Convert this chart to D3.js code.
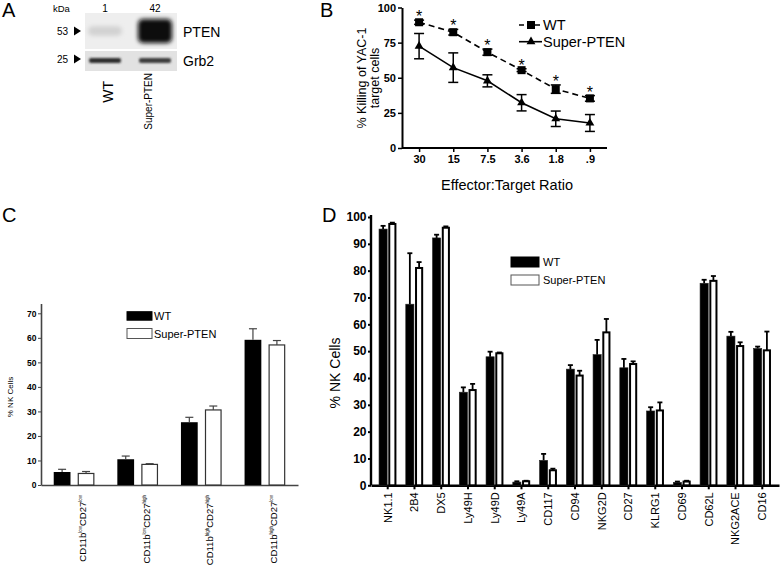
<!DOCTYPE html>
<html><head><meta charset="utf-8">
<script src="https://cdn.jsdelivr.net/npm/d3@7"></script>
<style>
body{margin:0;background:#fff}
svg text{font-family:"Liberation Sans",Arial,Helvetica,sans-serif;fill:#000}
</style>
</head><body>
<svg id="c" width="780" height="576"></svg>
<script>
// ---------- DATA ----------
// Panel A (western blot)
const blotLanes = ["WT", "Super-PTEN"];
const ptenFold = [1, 42];
const grb2Level = [1, 0.92];
const kdaLabels = ["53", "25"];
const blotProteins = ["PTEN", "Grb2"];

// Panel B (killing)
const ratios = ["30", "15", "7.5", "3.6", "1.8", ".9"];
const killWT = [89.5, 82.4, 68.2, 55.4, 41.9, 35.3];
const killWTErr = [1.5, 2.0, 2.2, 1.0, 3.0, 2.0];
const killSP = [72.5, 57.2, 47.8, 32.2, 20.8, 17.8];
const killSPErr = [9.0, 10.5, 4.3, 5.8, 5.5, 6.0];
const killTicks = [0, 25, 50, 75, 100];

// Panel C (subsets)
const subsetCD11b = ["low", "low", "high", "high"];
const subsetCD27 = ["low", "high", "high", "low"];
const subsetWT = [5.3, 10.5, 25.6, 59.2];
const subsetWTErr = [1.1, 1.3, 2.0, 4.5];
const subsetSP = [4.7, 8.4, 30.6, 57.1];
const subsetSPErr = [0.8, 0.3, 1.6, 1.8];
const subsetTicks = [0, 10, 20, 30, 40, 50, 60, 70];

// Panel D (receptors)
const receptors = ["NK1.1","2B4","DX5","Ly49H","Ly49D","Ly49A","CD117","CD94","NKG2D","CD27","KLRG1","CD69","CD62L","NKG2ACE","CD16"];
const receptorWT = [95.5, 67.5, 92.2, 34.7, 47.9, 1.2, 9.3, 43.3, 48.7, 43.8, 27.7, 1.1, 75.3, 55.6, 51.0];
const receptorWTErr = [1.2, 19.0, 1.2, 1.8, 1.9, 0.3, 2.4, 1.5, 5.5, 3.3, 1.4, 0.3, 1.3, 1.6, 0.7];
const receptorSP = [97.4, 81.0, 96.0, 35.5, 49.2, 1.5, 5.6, 40.9, 57.0, 45.2, 27.9, 1.4, 76.2, 51.9, 50.3];
const receptorSPErr = [0.5, 2.2, 0.5, 2.3, 0.3, 0.2, 0.6, 1.8, 5.0, 1.0, 3.0, 0.3, 1.8, 1.4, 7.0];
const receptorTicks = [0,10,20,30,40,50,60,70,80,90,100];

const groups = ["WT", "Super-PTEN"];

// ---------- DRAW ----------
const svg = d3.select("#c");
const defs = svg.append("defs");
defs.append("filter").attr("id","blurBig").attr("x","-30%").attr("y","-60%").attr("width","160%").attr("height","220%")
  .append("feGaussianBlur").attr("stdDeviation", 2.2);
defs.append("filter").attr("id","blurSmall").attr("x","-30%").attr("y","-100%").attr("width","160%").attr("height","300%")
  .append("feGaussianBlur").attr("stdDeviation", 1.1);

// panel letters
[["A",2,17],["B",320,17],["C",2,222],["D",322,222]].forEach(([t,x,y]) =>
  svg.append("text").attr("x",x).attr("y",y).attr("font-size",20).text(t));

// ===== Panel A =====
const gA = svg.append("g");
const laneX = d3.scalePoint().domain(blotLanes).range([105, 155]);
gA.append("rect").attr("x",85).attr("y",13).attr("width",92).attr("height",36).attr("fill","#eeeeee");
gA.append("rect").attr("x",85).attr("y",51).attr("width",92).attr("height",20).attr("fill","#e2e2e2");
const shade = d3.scaleLog().domain([1, 42]).range([0.1, 1]);
const shadeCol = d3.interpolateRgb("#e8e8e8", "#0c0c0c");
gA.selectAll(".pten").data(blotLanes).join("rect")
  .attr("x", d => laneX(d) - 17).attr("width", 34)
  .attr("y", (d,i) => 31 - (8 + 16*shade(ptenFold[i]))/2)
  .attr("height", (d,i) => 8 + 16*shade(ptenFold[i]))
  .attr("rx", 5)
  .attr("fill", (d,i) => shadeCol(shade(ptenFold[i])))
  .attr("filter","url(#blurBig)");
gA.selectAll(".grb").data(blotLanes).join("rect")
  .attr("x", d => laneX(d) - 16).attr("width", 32)
  .attr("y", 58).attr("height", 5).attr("rx", 2)
  .attr("fill", (d,i) => shadeCol(0.85*grb2Level[i]))
  .attr("filter","url(#blurSmall)");
gA.append("text").attr("x",53).attr("y",12).attr("font-size",9.5).text("kDa");
gA.selectAll(".fold").data(ptenFold).join("text")
  .attr("x",(d,i)=>laneX(blotLanes[i])).attr("y",12).attr("text-anchor","middle").attr("font-size",10).text(d=>d);
gA.selectAll(".kda").data(kdaLabels).join("text")
  .attr("x",68).attr("y",(d,i)=>[31,59][i]+3.5).attr("text-anchor","end").attr("font-size",10).text(d=>d);
gA.selectAll(".tri").data(kdaLabels).join("path")
  .attr("d",(d,i)=>{const y=[31,59][i];return `M74,${y-4.5}L81,${y}L74,${y+4.5}Z`;}).attr("fill","#000");
gA.selectAll(".prot").data(blotProteins).join("text")
  .attr("x",183).attr("y",(d,i)=>[31.5,61][i]+5).attr("font-size",14).text(d=>d);
gA.selectAll(".lane").data(blotLanes).join("text")
  .attr("transform",(d,i)=>`translate(${laneX(d)+[8,-3][i]},${[81,73][i]}) rotate(-90)`)
  .attr("text-anchor","end").attr("font-size",(d,i)=>[14,10][i]).text(d=>d);

// ===== Panel B =====
const gB = svg.append("g");
const xB = d3.scalePoint().domain(ratios).range([402, 607]).padding(0.5);
const yB = d3.scaleLinear().domain([0, 100]).range([148, 7.5]);
const axB = gB.append("g").attr("transform","translate(402,0)")
  .call(d3.axisLeft(yB).tickValues(killTicks).tickSize(4).tickSizeOuter(0).tickPadding(2));
const axBx = gB.append("g").attr("transform","translate(0,148)")
  .call(d3.axisBottom(xB).tickSize(4).tickSizeOuter(0).tickPadding(3));
[axB, axBx].forEach(a => {
  a.select(".domain").attr("stroke","#000").attr("stroke-width",2);
  a.selectAll(".tick line").attr("stroke","#000").attr("stroke-width",1.5);
  a.selectAll("text").attr("font-size",11).attr("font-weight","bold").attr("fill","#000").attr("font-family",null);
});
axBx.select(".domain").attr("d","M402,0H607");
const lineB = d3.line().x((d,i)=>xB(ratios[i])).y(d=>yB(d));
gB.append("path").datum(killWT).attr("d",lineB).attr("fill","none").attr("stroke","#000").attr("stroke-width",1.6).attr("stroke-dasharray","6,4");
gB.append("path").datum(killSP).attr("d",lineB).attr("fill","none").attr("stroke","#000").attr("stroke-width",1.6);
function errB(vals, errs){
  const g = gB.append("g").attr("stroke","#000").attr("stroke-width",1.5);
  vals.forEach((v,i)=>{
    const x = xB(ratios[i]);
    g.append("line").attr("x1",x).attr("x2",x).attr("y1",yB(v-errs[i])).attr("y2",yB(v+errs[i]));
    [v-errs[i], v+errs[i]].forEach(e=>g.append("line").attr("x1",x-5).attr("x2",x+5).attr("y1",yB(e)).attr("y2",yB(e)));
  });
}
errB(killWT, killWTErr); errB(killSP, killSPErr);
gB.selectAll(".sq").data(killWT).join("rect")
  .attr("x",(d,i)=>xB(ratios[i])-4).attr("y",d=>yB(d)-4).attr("width",8).attr("height",8).attr("fill","#000");
const tri = d3.symbol().type(d3.symbolTriangle).size(34);
gB.selectAll(".tr").data(killSP).join("path")
  .attr("transform",(d,i)=>`translate(${xB(ratios[i])},${yB(d)})`).attr("d",tri).attr("fill","#000");
gB.selectAll(".star").data(killWT).join("text")
  .attr("x",(d,i)=>xB(ratios[i])).attr("y",(d,i)=>yB(d+killWTErr[i])-7+9)
  .attr("text-anchor","middle").attr("font-size",16).text("*");
gB.append("text").attr("x",507).attr("y",190).attr("text-anchor","middle").attr("font-size",14.5).text("Effector:Target Ratio");
const yl = gB.append("text").attr("transform","translate(366,78) rotate(-90)").attr("text-anchor","middle").attr("font-size",12.5);
yl.append("tspan").attr("x",0).attr("dy",0).text("% Killing of YAC-1");
yl.append("tspan").attr("x",0).attr("dy",13).text("target cells");
// legend B
const legB = gB.append("g");
groups.forEach((gname,i)=>{
  const y = [25, 41.7][i];
  legB.append("line").attr("x1",519).attr("x2",542).attr("y1",y).attr("y2",y).attr("stroke","#000").attr("stroke-width",1.6)
    .attr("stroke-dasharray", i===0 ? "5,3" : null);
  if(i===0) legB.append("rect").attr("x",527).attr("y",y-4).attr("width",8).attr("height",8).attr("fill","#000");
  else legB.append("path").attr("transform",`translate(531,${y})`).attr("d",tri).attr("fill","#000");
  legB.append("text").attr("x",543).attr("y",y+5).attr("font-size",14.5).text(gname);
});

// ===== Panel C =====
const gC = svg.append("g");
const xC = d3.scaleBand().domain(subsetCD11b.map((d,i)=>i)).range([41, 298]).paddingInner(0.36).paddingOuter(0.2);
const xCs = d3.scaleBand().domain(groups).range([0, xC.bandwidth()]).paddingInner(0.3);
const yC = d3.scaleLinear().domain([0, 74]).range([485, 303.5]);
const axC = gC.append("g").attr("transform","translate(41,0)")
  .call(d3.axisLeft(yC).tickValues(subsetTicks).tickSize(3).tickSizeOuter(0).tickPadding(1.5));
axC.selectAll("text").attr("font-size",8.5).attr("font-weight","bold").attr("font-family",null);
axC.select(".domain").attr("stroke","#444").attr("stroke-width",1.6);
axC.selectAll(".tick line").attr("stroke","#444");
gC.append("g").attr("transform","translate(0,485)")
  .call(d3.axisBottom(xC).tickSize(0).tickFormat(""))
  .select(".domain").attr("stroke","#444").attr("stroke-width",1.6);
const cSets = [[subsetWT, subsetWTErr], [subsetSP, subsetSPErr]];
cSets.forEach(([vals, errs], gi)=>{
  const grp = groups[gi];
  gC.selectAll(".cbar"+gi).data(vals).join("rect")
    .attr("x",(d,i)=>xC(i)+xCs(grp)+(gi?0.6:0)).attr("width",xCs.bandwidth()-(gi?1.2:0))
    .attr("y",d=>yC(d)).attr("height",d=>yC(0)-yC(d))
    .attr("fill", gi ? "#fff" : "#000").attr("stroke", gi ? "#333" : "none").attr("stroke-width",1.2);
  vals.forEach((v,i)=>{
    const x = xC(i)+xCs(grp)+xCs.bandwidth()/2;
    gC.append("line").attr("x1",x).attr("x2",x).attr("y1",yC(v)).attr("y2",yC(v+errs[i])).attr("stroke","#444").attr("stroke-width",1.2);
    gC.append("line").attr("x1",x-4).attr("x2",x+4).attr("y1",yC(v+errs[i])).attr("y2",yC(v+errs[i])).attr("stroke","#444").attr("stroke-width",1.2);
  });
});
subsetCD11b.forEach((b,i)=>{
  const cx = xC(i)+xC.bandwidth()/2;
  const t = gC.append("text").attr("transform",`translate(${cx+12},495) rotate(-90)`).attr("text-anchor","end").attr("font-size",9.5);
  t.append("tspan").text("CD11b");
  t.append("tspan").attr("font-size",4.5).attr("dy",-4).text(b);
  t.append("tspan").attr("dy",4).text("CD27");
  t.append("tspan").attr("font-size",4.5).attr("dy",-4).text(subsetCD27[i]);
});
gC.append("text").attr("transform","translate(13,397) rotate(-90)").attr("text-anchor","middle").attr("font-size",8).text("% NK Cells");
// legend C
groups.forEach((gname,i)=>{
  const y = [311.7, 328.5][i];
  gC.append("rect").attr("x",127).attr("y",y).attr("width",25).attr("height",[8.5,10][i])
    .attr("fill", i? "#fff":"#000").attr("stroke", i? "#555":"#000").attr("stroke-width",1);
  gC.append("text").attr("x",154).attr("y",y+[8.2,9][i]).attr("font-size",11).text(gname);
});

// ===== Panel D =====
const gD = svg.append("g");
const xD = d3.scaleBand().domain(receptors).range([371, 779]).paddingInner(0.35).paddingOuter(0.3);
const xDs = d3.scaleBand().domain(groups).range([0, xD.bandwidth()]).paddingInner(0.12);
const yD = d3.scaleLinear().domain([0, 100]).range([485.3, 217]);
const axD = gD.append("g").attr("transform","translate(371,0)")
  .call(d3.axisLeft(yD).tickValues(receptorTicks).tickSize(3).tickSizeOuter(0).tickPadding(1.5));
axD.selectAll("text").attr("font-size",12).attr("font-weight","bold").attr("font-family",null);
axD.select(".domain").attr("stroke","#000").attr("stroke-width",2.4).attr("d","M0,485.3V215");
axD.selectAll(".tick line").attr("stroke","#000").attr("stroke-width",2);
const axDx = gD.append("g").attr("transform","translate(0,485.3)")
  .call(d3.axisBottom(xD).tickSize(4).tickSizeOuter(0));
axDx.select(".domain").attr("stroke","#000").attr("stroke-width",2.4);
axDx.selectAll(".tick line").attr("stroke","#000").attr("stroke-width",2);
axDx.selectAll("text").attr("font-size",11).attr("font-family",null)
  .attr("transform","rotate(-90)").attr("text-anchor","end").attr("x",-7).attr("y",0).attr("dy","0.35em");
const dSets = [[receptorWT, receptorWTErr], [receptorSP, receptorSPErr]];
dSets.forEach(([vals, errs], gi)=>{
  const grp = groups[gi];
  gD.selectAll(".dbar"+gi).data(vals).join("rect")
    .attr("x",(d,i)=>xD(receptors[i])+xDs(grp)+(gi?1:0)).attr("width",xDs.bandwidth()-(gi?2:0))
    .attr("y",d=>yD(d)).attr("height",d=>yD(0)-yD(d))
    .attr("fill", gi ? "#fff":"#000").attr("stroke", gi ? "#000":"#222").attr("stroke-width", gi?2:0.6);
  vals.forEach((v,i)=>{
    const x = xD(receptors[i])+xDs(grp)+xDs.bandwidth()/2;
    gD.append("line").attr("x1",x).attr("x2",x).attr("y1",yD(v)).attr("y2",yD(v+errs[i])).attr("stroke","#000").attr("stroke-width",1.8);
    gD.append("line").attr("x1",x-2.5).attr("x2",x+2.5).attr("y1",yD(v+errs[i])).attr("y2",yD(v+errs[i])).attr("stroke","#000").attr("stroke-width",1.8);
  });
});
gD.append("text").attr("transform","translate(340,373) rotate(-90)").attr("text-anchor","middle").attr("font-size",14).text("% NK Cells");
groups.forEach((gname,i)=>{
  const y = [262, 280][i];
  gD.append("rect").attr("x",511).attr("y",y-5).attr("width",28).attr("height",10)
    .attr("fill", i? "#fff":"#000").attr("stroke", i? "#555":"#000").attr("stroke-width",1);
  gD.append("text").attr("x",543).attr("y",y+4).attr("font-size",11).text(gname);
});
</script>
</body></html>
